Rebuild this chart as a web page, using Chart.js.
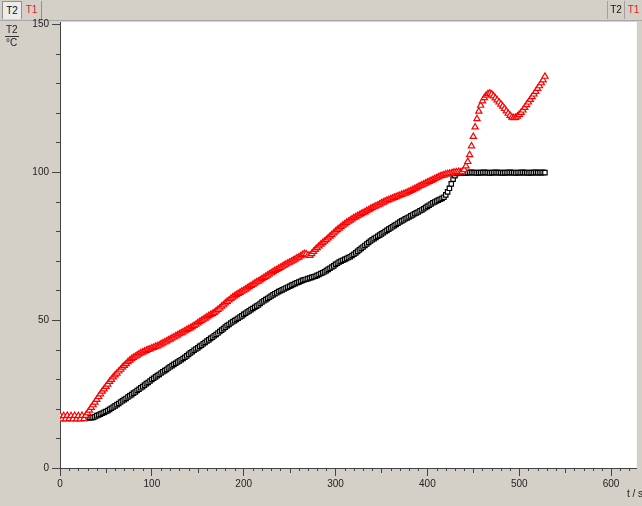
<!DOCTYPE html>
<html>
<head>
<meta charset="utf-8">
<script src="https://cdn.jsdelivr.net/npm/chart.js@4/dist/chart.umd.min.js"></script>
<style>
  body { margin: 0; width: 642px; height: 506px; overflow: hidden; background: #d4d0c8; position: relative; font-family: "Liberation Sans", Arial, sans-serif; }
  canvas { position: absolute; left: 0; top: 0; }
  .tab { position: absolute; top: 1px; height: 18px; line-height: 18px; font-size: 10px; text-align: center; box-sizing: border-box; }
  .lbl { position: absolute; font-size: 10px; color: #222; white-space: nowrap; }
</style>
</head>
<body>
<canvas id="grafico" width="642" height="506"></canvas>

<div class="tab" style="left:2px;width:20px;background:#ececec;border:1px solid #909090;border-bottom:none;color:#111;">T2</div>
<div class="tab" style="left:22px;width:20px;border-right:1px solid #909090;color:#e02020;">T1</div>
<div class="tab" style="left:607px;width:18px;border-left:1px solid #a0a0a0;border-right:1px solid #a0a0a0;color:#111;">T2</div>
<div class="tab" style="left:625px;width:17px;color:#e02020;">T1</div>

<div class="lbl" style="left:6px;top:24px;">T2</div>
<div style="position:absolute;left:5px;top:36px;width:14px;height:1px;background:#333;"></div>
<div class="lbl" style="left:6px;top:37px;">°C</div>
<div class="lbl" style="left:627px;top:488px;">t / s</div>

<script>
// etichette degli assi
const tickX = [0, 100, 200, 300, 400, 500, 600];
const tickY = [0, 50, 100, 150];

// tempi (s)
const tempi = [
  0,2,4,6,8,10,12,14,16,18,
  20,22,24,26,28,30,32,34,36,38,
  40,42,44,46,48,50,52,54,56,58,
  60,62,64,66,68,70,72,74,76,78,
  80,82,84,86,88,90,92,94,96,98,
  100,102,104,106,108,110,112,114,116,118,
  120,122,124,126,128,130,132,134,136,138,
  140,142,144,146,148,150,152,154,156,158,
  160,162,164,166,168,170,172,174,176,178,
  180,182,184,186,188,190,192,194,196,198,
  200,202,204,206,208,210,212,214,216,218,
  220,222,224,226,228,230,232,234,236,238,
  240,242,244,246,248,250,252,254,256,258,
  260,262,264,266,268,270,272,274,276,278,
  280,282,284,286,288,290,292,294,296,298,
  300,302,304,306,308,310,312,314,316,318,
  320,322,324,326,328,330,332,334,336,338,
  340,342,344,346,348,350,352,354,356,358,
  360,362,364,366,368,370,372,374,376,378,
  380,382,384,386,388,390,392,394,396,398,
  400,402,404,406,408,410,412,414,416,418,
  420,422,424,426,428,430,432,434,436,438,
  440,442,444,446,448,450,452,454,456,458,
  460,462,464,466,468,470,472,474,476,478,
  480,482,484,486,488,490,492,494,496,498,
  500,502,504,506,508,510,512,514,516,518,
  520,522,524,526,528
];

// sensore T1 (°C)
const valoriT1 = [
  17.7,16.5,17.6,16.5,17.7,16.6,17.6,16.5,17.7,16.5,
  17.6,16.5,17.7,16.6,17.7,18.6,19.5,20.4,21.3,22.2,
  23.1,24.1,25.0,25.9,26.7,27.5,28.3,29.2,29.9,30.7,
  31.4,32.0,32.7,33.3,34.0,34.6,35.2,35.9,36.4,36.9,
  37.3,37.7,38.1,38.5,38.8,39.1,39.4,39.7,40.0,40.2,
  40.5,40.7,41.0,41.2,41.5,41.9,42.2,42.5,42.8,43.2,
  43.5,43.9,44.2,44.6,44.9,45.3,45.6,45.9,46.3,46.7,
  47.0,47.3,47.7,48.1,48.5,49.0,49.4,49.8,50.2,50.6,
  51.0,51.4,51.8,52.1,52.5,53.0,53.5,54.0,54.6,55.1,
  55.7,56.2,56.7,57.2,57.7,58.1,58.5,58.9,59.3,59.7,
  60.0,60.4,60.8,61.2,61.6,62.0,62.4,62.8,63.1,63.5,
  63.9,64.3,64.7,65.1,65.5,65.9,66.3,66.7,67.0,67.4,
  67.7,68.1,68.5,68.8,69.2,69.5,69.8,70.2,70.5,70.9,
  71.2,71.6,72.0,72.4,72.3,71.9,71.8,72.4,73.1,73.8,
  74.4,75.0,75.6,76.1,76.6,77.1,77.7,78.3,78.8,79.4,
  80.0,80.5,81.0,81.5,82.0,82.4,82.9,83.3,83.7,84.1,
  84.5,84.8,85.2,85.5,85.9,86.2,86.5,86.9,87.2,87.6,
  87.9,88.2,88.5,88.8,89.1,89.5,89.8,90.1,90.4,90.6,
  90.9,91.1,91.4,91.6,91.9,92.1,92.4,92.6,92.8,93.1,
  93.4,93.7,94.0,94.3,94.6,95.0,95.3,95.6,95.9,96.2,
  96.5,96.8,97.1,97.4,97.7,98.0,98.3,98.6,98.8,99.0,
  99.2,99.4,99.5,99.6,99.8,99.9,100.0,100.1,100.0,100.2,
  100.8,102.0,103.5,105.8,108.8,112.0,115.2,118.0,120.5,122.5,
  124.0,125.1,125.9,126.4,126.6,126.3,125.7,125.0,124.3,123.6,
  122.9,122.2,121.4,120.6,119.8,119.1,118.5,118.3,118.4,118.8,
  119.4,120.1,120.9,121.8,122.7,123.6,124.5,125.4,126.3,127.2,
  128.2,129.1,130.1,131.1,132.3
];

// sensore T2 (°C)
const valoriT2 = [
  17.1,17.1,17.1,17.1,17.1,17.1,17.1,17.1,17.1,17.1,
  17.1,17.1,17.1,17.1,17.1,17.0,17.0,17.0,17.1,17.3,
  17.7,17.9,18.2,18.5,18.8,19.1,19.4,19.8,20.2,20.6,
  21.0,21.4,21.8,22.3,22.7,23.1,23.5,24.0,24.4,24.8,
  25.3,25.7,26.2,26.6,27.1,27.5,28.0,28.5,28.9,29.4,
  29.9,30.3,30.8,31.2,31.6,32.1,32.5,32.9,33.3,33.8,
  34.2,34.6,35.0,35.4,35.8,36.2,36.6,37.0,37.4,37.9,
  38.4,38.9,39.3,39.8,40.2,40.6,41.1,41.5,42.0,42.4,
  42.9,43.3,43.8,44.2,44.7,45.1,45.6,46.1,46.6,47.1,
  47.6,48.1,48.5,49.0,49.4,49.8,50.2,50.6,51.0,51.4,
  51.9,52.3,52.7,53.1,53.5,53.9,54.3,54.7,55.1,55.6,
  56.1,56.5,56.9,57.3,57.7,58.1,58.5,58.9,59.2,59.6,
  59.9,60.2,60.5,60.8,61.1,61.4,61.7,62.0,62.3,62.6,
  62.8,63.1,63.4,63.6,63.8,64.0,64.2,64.4,64.6,64.8,
  65.1,65.4,65.7,66.0,66.3,66.7,67.1,67.5,67.9,68.3,
  68.8,69.2,69.6,69.9,70.2,70.5,70.8,71.1,71.4,71.8,
  72.2,72.7,73.2,73.7,74.2,74.7,75.2,75.7,76.2,76.7,
  77.1,77.5,77.9,78.3,78.7,79.1,79.5,79.9,80.3,80.7,
  81.1,81.5,81.9,82.3,82.7,83.1,83.5,83.8,84.2,84.5,
  84.8,85.2,85.5,85.9,86.2,86.5,86.9,87.2,87.6,88.0,
  88.4,88.8,89.2,89.6,89.9,90.2,90.5,90.8,91.1,91.5,
  92.3,93.3,94.5,96.0,97.6,98.8,99.5,99.7,99.8,99.8,
  99.8,99.7,99.8,99.8,99.9,99.8,99.8,99.7,99.8,99.8,
  99.8,99.9,99.8,99.8,99.7,99.8,99.8,99.9,99.8,99.8,
  99.8,99.7,99.8,99.8,99.8,99.9,99.8,99.8,99.7,99.8,
  99.8,99.8,99.9,99.8,99.8,99.7,99.8,99.8,99.8,99.9,
  99.8,99.8,99.8,99.9,99.8
];

// sfondo grigio e area bianca, tacche secondarie
const sfondo = {
  id: "sfondo",
  beforeDraw(chart) {
    const c = chart.ctx, a = chart.chartArea;
    c.save();
    c.fillStyle = "#d4d0c8";
    c.fillRect(0, 0, chart.width, chart.height);
    c.fillStyle = "#a8a8a8";
    c.fillRect(0, 20, chart.width, 1);
    c.fillStyle = "#ffffff";
    c.fillRect(a.left, a.top, a.right - a.left, a.bottom - a.top);
    c.restore();
  },
  afterDraw(chart) {
    const c = chart.ctx, a = chart.chartArea;
    const sx = chart.scales.x, sy = chart.scales.y;
    c.save();
    c.strokeStyle = "#444";
    c.lineWidth = 1;
    c.beginPath();
    for (let v = 10; v <= 150; v += 10) {
      if (v % 50 === 0) continue;
      const y = Math.round(sy.getPixelForValue(v)) + 0.5;
      c.moveTo(a.left - 4, y);
      c.lineTo(a.left, y);
    }
    for (let v = 10; v <= 620; v += 10) {
      if (v % 100 === 0) continue;
      const x = Math.round(sx.getPixelForValue(v)) + 0.5;
      c.moveTo(x, a.bottom);
      c.lineTo(x, a.bottom + (v % 50 === 0 ? 5 : 3));
    }
    c.stroke();
    c.restore();
  }
};

const punti = arr => arr.map((v, i) => ({x: tempi[i], y: v}));

// il primo dataset viene disegnato sopra
new Chart("grafico", {
  type: "scatter",
  data: {
    datasets: [
      {
        label: "T1",
        data: punti(valoriT1),
        pointStyle: "triangle",
        pointRadius: 3.6,
        borderWidth: 1.2,
        borderColor: "rgb(255,0,0)",
        backgroundColor: "#ffffff"
      },
      {
        label: "T2",
        data: punti(valoriT2),
        pointStyle: "rect",
        pointRadius: 3.1,
        borderWidth: 1.2,
        borderColor: "#000",
        backgroundColor: "#ffffff"
      }
    ]
  },
  options: {
    responsive: false,
    animation: false,
    layout: {padding: {top: 22, left: 0, right: 0, bottom: 0}},
    plugins: {legend: {display: false}, tooltip: {enabled: false}},
    scales: {
      x: {
        type: "linear",
        min: 0,
        max: 628,
        afterFit(s) { s.height = 38; },
        afterBuildTicks(s) { s.ticks = tickX.map(v => ({value: v})); },
        ticks: {maxRotation: 0, padding: 2, color: "#222", font: {family: "Liberation Sans", size: 10}},
        grid: {drawOnChartArea: false, tickLength: 8, color: "#444"},
        border: {color: "#444"}
      },
      y: {
        min: 0,
        max: 150.7,
        afterFit(s) { s.width = 60; },
        afterBuildTicks(s) { s.ticks = tickY.map(v => ({value: v})); },
        ticks: {padding: 3, color: "#222", font: {family: "Liberation Sans", size: 10}},
        grid: {drawOnChartArea: false, tickLength: 8, color: "#444"},
        border: {color: "#444"}
      }
    }
  },
  plugins: [sfondo]
});
</script>
</body>
</html>
